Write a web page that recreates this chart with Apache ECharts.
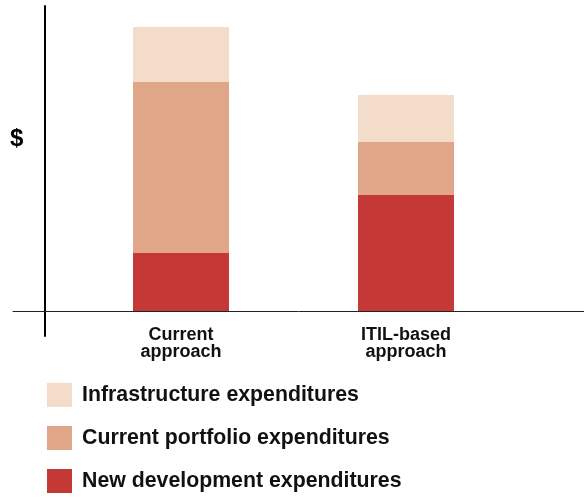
<!DOCTYPE html>
<html>
<head>
<meta charset="utf-8">
<script src="https://cdn.jsdelivr.net/npm/echarts@6/dist/echarts.min.js"></script>
<style>html,body{margin:0;padding:0;background:#fff;}#c{width:584px;height:498px;}</style>
</head>
<body>
<div id="c"></div>
<script>
var categories = ['Current\napproach', 'ITIL-based\napproach'];
var newDevelopment = [58, 116];
var currentPortfolio = [171, 53];
var infrastructure = [55, 47];
var seriesNames = ['New development expenditures', 'Current portfolio expenditures', 'Infrastructure expenditures'];
var legendOrder = ['Infrastructure expenditures', 'Current portfolio expenditures', 'New development expenditures'];
var colors = ['#C43936', '#E0A688', '#F3DCCA'];
var FONT = 'Arial, "Liberation Sans", Helvetica, sans-serif';

var chart = echarts.init(document.getElementById('c'), null, {renderer: 'canvas'});
var dataSets = [newDevelopment, currentPortfolio, infrastructure];
var series = dataSets.map(function (d, i) {
  return {
    name: seriesNames[i], type: 'bar', stack: 'total', barWidth: 96,
    xAxisIndex: 0, yAxisIndex: 0,
    itemStyle: {color: colors[i]}, data: d, animation: false
  };
});
chart.setOption({
  animation: false,
  grid: [
    {left: 68.5, right: 65.5, top: 6, bottom: 162},
    {left: 13, right: 0, top: 6, bottom: 187}
  ],
  xAxis: [
    {type: 'category', gridIndex: 0, data: categories,
     axisLine: {show: false, onZero: false}, axisTick: {show: false},
     axisLabel: {margin: -9, fontSize: 18, fontWeight: 'bold', color: '#111', lineHeight: 17, fontFamily: FONT}},
    {type: 'value', gridIndex: 1, min: 0, max: 1,
     axisLine: {show: true, lineStyle: {color: '#222', width: 1}}, axisTick: {show: false},
     axisLabel: {show: false}, splitLine: {show: false}}
  ],
  yAxis: [
    {type: 'value', gridIndex: 0, min: -25, max: 305, offset: 23.5,
     axisLine: {show: true, lineStyle: {color: '#000', width: 2}}, axisTick: {show: false},
     axisLabel: {show: false}, splitLine: {show: false}},
    {type: 'value', gridIndex: 1, min: 0, max: 1, show: false}
  ],
  legend: {
    orient: 'vertical', left: 47, top: 383, padding: 0,
    itemWidth: 25, itemHeight: 24, itemGap: 19, icon: 'rect',
    data: legendOrder, selectedMode: false,
    textStyle: {fontSize: 21.3, fontWeight: 'bold', color: '#111', fontFamily: FONT, padding: [2, 0, 0, 5]}
  },
  graphic: [
    {type: 'text', left: 10, top: 127,
     style: {text: '$', font: 'bold 24px ' + FONT, fill: '#000'}}
  ],
  series: series
});
</script>
</body>
</html>
